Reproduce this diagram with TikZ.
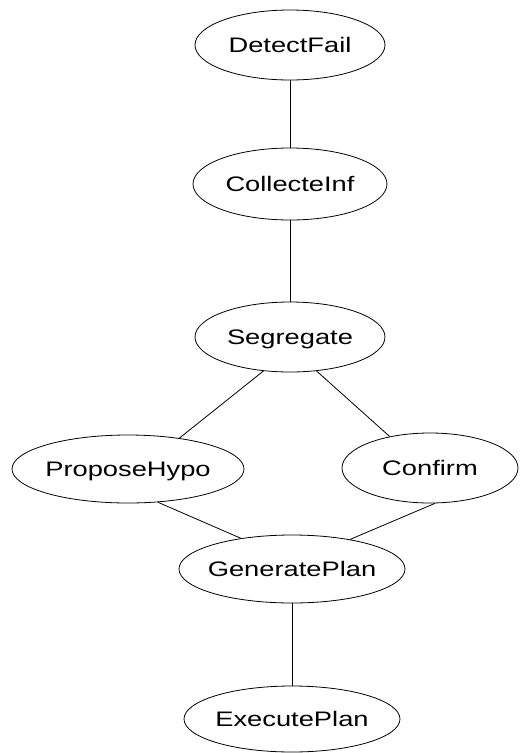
\documentclass[tikz,border=0pt]{standalone}
\usepackage{graphicx}
\usepackage{fontspec}
\setmainfont{Liberation Sans}
\usetikzlibrary{shapes.geometric}

% Labels are set slightly wide, as in the original drawing
\newcommand\wlabel[1]{\makebox[0pt]{\scalebox{1.3}[1]{#1}}}

\begin{document}
\begin{tikzpicture}[x=1pt,y=-1pt,
  state/.style={ellipse,draw,line width=0.8pt,inner sep=0pt,
    font=\fontsize{21pt}{24pt}\selectfont,text height=15pt,text depth=0pt},
  edge/.style={line width=0.8pt}]
  \useasboundingbox (0,0) rectangle (523,753);

  \node[state,minimum width=190pt,minimum height=70pt] (df) at (290,45)  {\wlabel{DetectFail}};
  \node[state,minimum width=194pt,minimum height=72pt] (ci) at (290,184) {\wlabel{CollecteInf}};
  \node[state,minimum width=190pt,minimum height=70pt] (sg) at (290,337) {\wlabel{Segregate}};
  \node[state,minimum width=232pt,minimum height=68pt] (ph) at (128,469) {\wlabel{ProposeHypo}};
  \node[state,minimum width=176pt,minimum height=70pt] (cf) at (430,468) {\wlabel{Confirm}};
  \node[state,minimum width=226pt,minimum height=68pt] (gp) at (292,569) {\wlabel{GeneratePlan}};
  \node[state,minimum width=216pt,minimum height=66pt] (ep) at (292,719) {\wlabel{ExecutePlan}};

  \draw[edge] (df) -- (ci);
  \draw[edge] (ci) -- (sg);
  \draw[edge] (sg.232) -- (ph.31);
  \draw[edge] (sg.308) -- (cf.142);
  \draw[edge] (ph.312) -- (gp.149);
  \draw[edge] (cf.278) -- (gp.27);
  \draw[edge] (gp) -- (ep);
\end{tikzpicture}
\end{document}
